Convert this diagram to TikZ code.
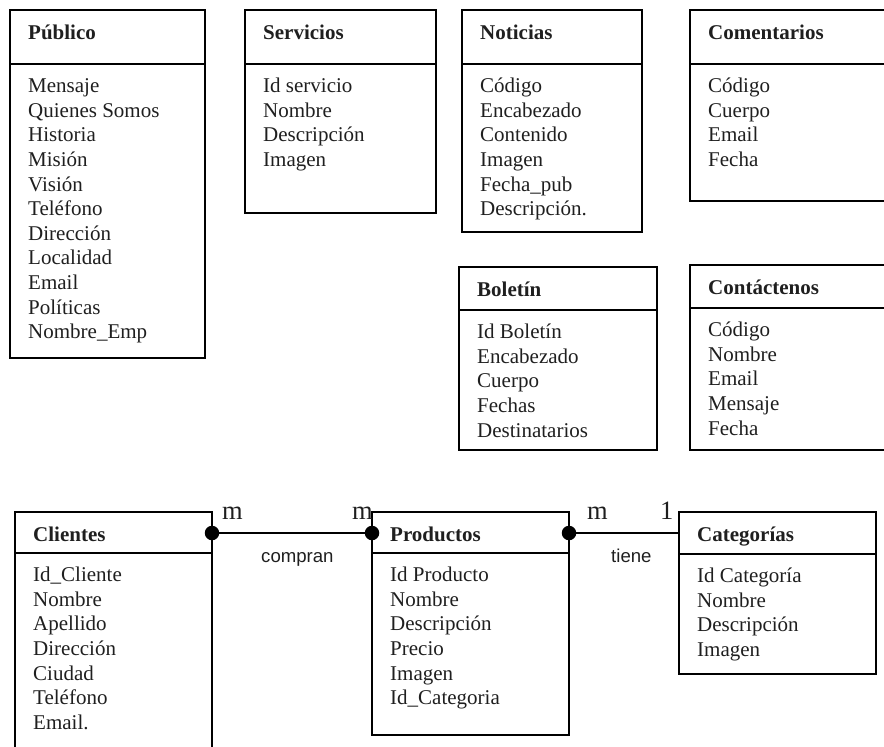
\documentclass[tikz,border=0pt]{standalone}
\usepackage{fontspec}
\setmainfont{Liberation Serif}
\setsansfont{Liberation Sans}
\tikzset{
  boxst/.style={draw=black, line width=1.6pt, inner sep=0pt, outer sep=0pt, anchor=north west},
  divst/.style={line width=1.6pt},
  titlest/.style={inner sep=0pt, anchor=base west, font=\fontsize{21}{24}\selectfont\bfseries, text=black!88},
  itemst/.style={inner sep=0pt, anchor=base west, font=\fontsize{21}{24}\selectfont, text=black!88},
  cardst/.style={inner sep=0pt, anchor=base west, font=\fontsize{26.5}{30}\selectfont, text=black!88},
  relst/.style={inner sep=0pt, anchor=base west, font=\sffamily\fontsize{18.6}{22}\selectfont, text=black!88},
  dotst/.style={circle, fill=black, inner sep=0pt, minimum size=14.5pt},
  linkst/.style={line width=1.8pt}
}
% #1 name, #2 left, #3 top, #4 right, #5 bottom, #6 divider y, #7 title, #8 items
\newcommand{\erentity}[8]{%
  \node[boxst, minimum width={(#4-#2)*1pt}, minimum height={(#5-#3)*1pt}] (#1) at (#2,#3) {};
  \draw[divst] (#2,#6) -- (#4,#6);
  \node[titlest] (#1-t) at ([xshift=18pt,yshift=-29.5pt]#1.north west) {#7};
  \foreach \t [count=\i] in {#8} {
    \node[itemst] (#1-\i) at ([xshift=18pt,yshift={-(#6-#3)*1pt-28.7pt-(\i-1)*24.6pt}]#1.north west) {\t};
  }%
}
\begin{document}
\begin{tikzpicture}[x=1pt,y=-1pt]
\useasboundingbox (0,0) rectangle (884,747);
\clip (0,0) rectangle (884,747);
\erentity{pub}{10}{10}{205}{358}{64}{Público}{Mensaje,Quienes Somos,Historia,Misión,Visión,Teléfono,Dirección,Localidad,Email,Políticas,Nombre\_Emp}
\erentity{serv}{245}{10}{436}{213}{64}{Servicios}{Id servicio,Nombre,Descripción,Imagen}
\erentity{noti}{462}{10}{642}{232}{64}{Noticias}{Código,Encabezado,Contenido,Imagen,Fecha\_pub,Descripción.}
\erentity{come}{690}{10}{900}{201}{64}{Comentarios}{Código,Cuerpo,Email,Fecha}
\erentity{bole}{459}{267}{657}{450}{310}{Boletín}{Id Boletín,Encabezado,Cuerpo,Fechas,Destinatarios}
\erentity{cont}{690}{265}{900}{450}{308}{Contáctenos}{Código,Nombre,Email,Mensaje,Fecha}
\erentity{cli}{15}{512}{212}{760}{553}{Clientes}{Id\_Cliente,Nombre,Apellido,Dirección,Ciudad,Teléfono,Email.}
\erentity{prod}{372}{512}{569}{735}{553}{Productos}{Id Producto,Nombre,Descripción,Precio,Imagen,Id\_Categoria}
\erentity{cat}{679}{512}{876}{674}{554}{Categorías}{Id Categoría,Nombre,Descripción,Imagen}
% relationships
\node[dotst] (d1) at ([yshift=-21pt]cli.north east) {};
\node[dotst] (d2) at ([yshift=-21pt]prod.north west) {};
\node[dotst] (d3) at ([yshift=-21pt]prod.north east) {};
\coordinate (c4) at ([yshift=-21pt]cat.north west);
\draw[linkst] (d1.center) -- (d2.center);
\draw[linkst] (d3.center) -- (c4);
\node[cardst] (m1) at (222,519) {m};
\node[cardst] (m2) at (352,519) {m};
\node[cardst] (m3) at (587,519) {m};
\node[cardst] (o1) at (660,519) {1};
\node[relst] (r1) at (261,562.5) {compran};
\node[relst] (r2) at (611,562.5) {tiene};
\end{tikzpicture}
\end{document}
